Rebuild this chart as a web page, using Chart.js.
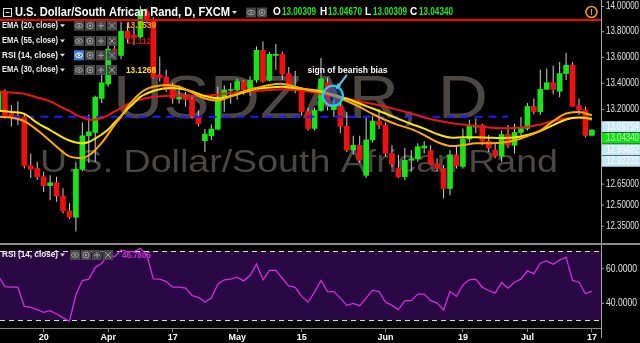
<!DOCTYPE html>
<html><head><meta charset="utf-8">
<script src="https://cdn.jsdelivr.net/npm/chart.js@4.4.1/dist/chart.umd.min.js"></script>
<style>
html,body{margin:0;padding:0;background:#000;overflow:hidden;width:640px;height:343px;}
#wa{position:absolute;left:0;top:0;width:640px;height:243px;}
#wb{position:absolute;left:0;top:243px;width:640px;height:100px;}
canvas{display:block;}
</style></head><body>
<div id="wa"><canvas id="main" width="640" height="243"></canvas></div>
<div id="wb"><canvas id="rsi" width="640" height="100"></canvas></div>
<script>
// ---------- DATA ----------
const tickIdx = [7, 17, 27, 37, 47, 60, 72, 82, 92];
const tickLabels = ['20', 'Apr', '17', 'May', '15', 'Jun', '19', 'Jul', '17'];

const open = [
13.18, 13.33, 13.165, 13.15, 13.14, 12.78, 12.76, 12.70, 12.635, 12.657,
12.56, 12.455, 12.41, 12.755, 13.0, 13.025, 13.28, 13.39, 13.66, 13.61,
13.80, 13.77, 13.755, 13.955, 13.89, 13.46, 13.445, 13.37, 13.275, 13.29,
13.275, 13.14, 12.964, 13.0, 13.05, 13.28, 13.34, 13.345, 13.41, 13.345,
13.42, 13.65, 13.42, 13.61, 13.62, 13.47, 13.37, 13.345, 13.18, 13.055,
13.19, 13.40, 13.195, 13.22, 13.07, 12.895, 12.93, 12.71, 12.97, 13.11,
13.08, 12.87, 12.76, 12.70, 12.82, 12.83, 12.91, 12.89, 12.795, 12.76,
12.615, 12.86, 12.775, 12.976, 13.065, 13.08, 12.96, 12.895, 12.85, 13.01,
12.93, 13.025, 13.055, 13.22, 13.18, 13.35, 13.40, 13.335, 13.47, 13.535,
13.225, 13.195, 13.00309];
const high = [
13.35, 13.35, 13.23, 13.26, 13.155, 12.87, 12.81, 12.737, 12.71, 12.70,
12.616, 12.51, 12.81, 13.10, 13.16, 13.30, 13.46, 13.69, 13.73, 13.875,
13.86, 13.83, 14.0, 13.98, 13.91, 13.60, 13.50, 13.40, 13.38, 13.33,
13.29, 13.19, 13.05, 13.085, 13.37, 13.38, 13.40, 13.43, 13.42, 13.45,
13.68, 13.72, 13.64, 13.70, 13.64, 13.52, 13.49, 13.36, 13.21, 13.21,
13.59, 13.44, 13.28, 13.25, 13.18, 13.0, 13.0, 13.15, 13.15, 13.20,
13.10, 12.93, 12.86, 12.91, 12.895, 12.945, 12.96, 12.93, 12.834, 12.785,
12.895, 12.93, 13.055, 13.12, 13.13, 13.09, 13.006, 12.945, 13.04, 13.08,
13.09, 13.14, 13.245, 13.28, 13.50, 13.51, 13.53, 13.56, 13.63, 13.56,
13.28, 13.22, 13.0467];
const low = [
13.16, 13.13, 13.07, 13.08, 12.76, 12.69, 12.676, 12.59, 12.53, 12.52,
12.437, 12.397, 12.31, 12.74, 12.80, 12.81, 13.245, 13.37, 13.59, 13.58,
13.71, 13.69, 13.74, 13.86, 13.43, 13.41, 13.33, 13.24, 13.24, 13.22,
13.13, 13.07, 12.88, 12.97, 13.04, 13.18, 13.24, 13.27, 13.31, 13.30,
13.40, 13.40, 13.41, 13.50, 13.42, 13.35, 13.32, 13.15, 13.04, 13.04,
13.18, 13.19, 13.14, 13.02, 12.88, 12.86, 12.80, 12.69, 12.95, 13.05,
12.85, 12.77, 12.69, 12.675, 12.737, 12.81, 12.87, 12.785, 12.737, 12.545,
12.566, 12.76, 12.76, 12.95, 13.02, 12.93, 12.88, 12.834, 12.81, 12.91,
12.87, 13.006, 13.04, 13.16, 13.155, 13.345, 13.31, 13.29, 13.42, 13.22,
13.155, 12.99, 13.00309];
const close = [
13.33, 13.15, 13.142, 13.14, 12.78, 12.755, 12.70, 12.635, 12.657, 12.56,
12.455, 12.41, 12.755, 13.0, 13.03, 13.29, 13.40, 13.66, 13.62, 13.80,
13.745, 13.75, 13.965, 13.89, 13.44, 13.44, 13.35, 13.28, 13.29, 13.27,
13.145, 13.09, 13.013, 13.05, 13.28, 13.345, 13.345, 13.41, 13.345, 13.42,
13.65, 13.41, 13.62, 13.62, 13.465, 13.36, 13.345, 13.18, 13.055, 13.19,
13.43, 13.22, 13.235, 13.07, 12.895, 12.93, 12.82, 12.97, 13.11, 13.08,
12.87, 12.79, 12.70, 12.82, 12.83, 12.92, 12.925, 12.79, 12.76, 12.615,
12.86, 12.78, 12.976, 13.07, 13.075, 12.96, 12.91, 12.85, 13.01, 12.93,
13.025, 13.055, 13.22, 13.18, 13.35, 13.40, 13.35, 13.47, 13.535, 13.22,
13.195, 13.003, 13.0434];

const emaIdx = [0,2,4,6,8,10,11,12,13,14,15,16,17,18,19,20,21,22,23,24,26,28,30,32,34,36,38,40,42,44,46,48,50,52,54,56,58,60,62,64,66,68,70,72,74,76,78,80,82,84,86,88,90,92];
const ema20 = [13.143,13.136,13.110,13.043,12.962,12.880,12.848,12.838,12.837,12.855,12.895,12.947,13.013,13.081,13.142,13.216,13.273,13.322,13.353,13.370,13.383,13.370,13.326,13.280,13.265,13.296,13.334,13.360,13.383,13.391,13.370,13.345,13.326,13.299,13.261,13.216,13.163,13.118,13.080,13.050,13.006,12.954,12.925,12.932,12.945,12.945,12.949,12.965,12.998,13.039,13.110,13.167,13.178,13.1539];
const ema30 = [13.188,13.178,13.164,13.096,13.043,12.987,12.965,12.950,12.945,12.954,12.980,13.010,13.047,13.099,13.148,13.201,13.246,13.292,13.318,13.337,13.358,13.356,13.334,13.299,13.282,13.299,13.326,13.353,13.364,13.370,13.358,13.349,13.334,13.307,13.278,13.242,13.204,13.167,13.126,13.088,13.054,13.013,12.987,12.990,12.989,12.986,12.984,12.987,13.006,13.036,13.080,13.122,13.137,13.1268];
const ema55 = [13.334,13.326,13.316,13.288,13.258,13.208,13.186,13.156,13.137,13.122,13.122,13.133,13.152,13.182,13.208,13.235,13.258,13.273,13.284,13.292,13.299,13.303,13.299,13.299,13.311,13.322,13.330,13.337,13.345,13.350,13.345,13.334,13.316,13.299,13.280,13.258,13.239,13.220,13.193,13.167,13.137,13.114,13.096,13.084,13.073,13.062,13.056,13.058,13.067,13.084,13.110,13.129,13.137,13.118];

const rsi = [
55.2, 49.4, 49.0, 49.0, 37.9, 37.3, 36.0, 34.4, 35.4, 33.5,
31.2, 29.2, 44.6, 52.9, 53.7, 60.4, 62.9, 67.7, 66.7, 70.6,
69.6, 69.6, 71.5, 67.7, 53.8, 53.7, 52.3, 49.0, 49.0, 48.5,
44.2, 43.1, 40.4, 42.7, 50.8, 53.3, 53.7, 54.8, 52.7, 55.8,
62.5, 53.3, 58.8, 58.8, 54.2, 49.8, 48.9, 43.7, 40.4, 46.2,
52.9, 46.5, 46.5, 42.7, 38.5, 39.6, 38.3, 42.7, 47.3, 46.5,
40.4, 38.5, 36.0, 41.2, 41.2, 45.0, 45.0, 41.2, 39.8, 35.8,
46.5, 43.7, 50.4, 53.3, 53.7, 49.0, 47.1, 45.6, 51.7, 48.5,
51.9, 53.7, 58.5, 56.9, 62.9, 64.2, 62.3, 64.8, 66.3, 52.9,
51.9, 45.2, 46.78];

const priceTicks = [14.0, 13.8, 13.6, 13.4, 13.2, 12.65, 12.5, 12.35];
const rsiTicks = [60, 40];
const rsiBands = [70, 30];
const tagValues = [13.06794, 13.04340, 12.99492, 12.92231];
const redLevel = 13.889;
const blueLevel = 13.142;
const blueSpan = [0, 79];
const studyNames = ['EMA (20, close)', 'EMA (55, close)', 'RSI (14, close)', 'EMA (30, close)'];
const studyValues = ['13.1539', '13.1123', '', '13.1268'];
const rsiValue = '46.7805';
const titleText = 'U.S. Dollar/South African Rand, D, FXCM';
const watermark1 = 'USDZAR, D';
const watermark2 = 'U.S. Dollar/South African Rand';
const note = {text: 'sign of bearish bias', idx: 51.85, price: 13.30};

// ---------- STYLE / LAYOUT ----------
const FONT = "'Liberation Sans', Arial, sans-serif";
Chart.defaults.font.family = FONT;
Chart.defaults.animation = false;
const X_MIN = 0.2326, X_MAX = 93.41;
const Y_MIN = 12.2356, Y_MAX = 14.048;
const R_MIN = 25.36, R_MAX = 73.48;
const UP = '#16e616', DOWN = '#f01010';
const C20 = '#ffa800', C30 = '#ffe400', C55 = '#ee1515', CRSI = '#d02fdc';
const AXW = 39;

const N = close.length;
const ids = close.map((_, i) => i);

function stretchText(ctx, s, cx, base, targetW, font) {
  ctx.font = font;
  const w = ctx.measureText(s).width;
  ctx.save(); ctx.translate(cx, base); ctx.scale(targetW / w, 1);
  ctx.textAlign = 'center'; ctx.textBaseline = 'alphabetic';
  ctx.fillText(s, 0, 0); ctx.restore();
}
function txt(ctx, s, x, y, color, font, maxW, align) {
  ctx.font = font; ctx.fillStyle = color; ctx.textAlign = align || 'left'; ctx.textBaseline = 'middle';
  if (maxW) ctx.fillText(s, x, y, maxW); else ctx.fillText(s, x, y);
}
function tri(ctx, x, y, color) {
  ctx.fillStyle = color; ctx.beginPath();
  ctx.moveTo(x, y - 1.5); ctx.lineTo(x + 5, y - 1.5); ctx.lineTo(x + 2.5, y + 1.5); ctx.closePath(); ctx.fill();
}
function iconBox(ctx, x, y, kind, active) {
  ctx.fillStyle = active ? '#3b82d6' : '#474747';
  ctx.fillRect(x, y - 5, 10, 10);
  const col = active ? '#ffffff' : '#a0a0a0';
  ctx.strokeStyle = col; ctx.fillStyle = col; ctx.lineWidth = 1;
  const cx = x + 5, cy = y;
  ctx.beginPath();
  if (kind === 'eye') { ctx.ellipse(cx, cy, 3.5, 2.3, 0, 0, 2 * Math.PI); ctx.stroke(); ctx.beginPath(); ctx.arc(cx, cy, 1.1, 0, 2 * Math.PI); ctx.fill(); }
  else if (kind === 'gear') { ctx.arc(cx, cy, 3, 0, 2 * Math.PI); ctx.stroke(); ctx.beginPath(); ctx.arc(cx, cy, 1.2, 0, 2 * Math.PI); ctx.fill(); }
  else if (kind === 'plus') { ctx.moveTo(cx - 3, cy); ctx.lineTo(cx + 3, cy); ctx.moveTo(cx, cy - 3); ctx.lineTo(cx, cy + 3); ctx.stroke(); }
  else { ctx.moveTo(cx - 3, cy - 3); ctx.lineTo(cx + 3, cy + 3); ctx.moveTo(cx + 3, cy - 3); ctx.lineTo(cx - 3, cy + 3); ctx.stroke(); }
}
function studyRow(ctx, y, name, value, valColor, activeEye, boxX, valX) {
  txt(ctx, name, 2, y, '#f2f2f2', 'bold 9px ' + FONT, 56);
  tri(ctx, 60, y, '#e0e0e0');
  ['eye', 'gear', 'plus', 'x'].forEach((k, i) => iconBox(ctx, boxX + i * 11, y, k, activeEye && i === 0));
  if (value) txt(ctx, value, valX, y, valColor, 'bold 9.5px ' + FONT, 30);
}

const mainPlugin = {
  id: 'mainDecor',
  beforeDraw(chart) {
    const ctx = chart.ctx;
    ctx.save(); ctx.fillStyle = '#000'; ctx.fillRect(0, 0, chart.width, chart.height); ctx.restore();
  },
  beforeDatasetsDraw(chart) {
    const ctx = chart.ctx, a = chart.chartArea;
    ctx.save();
    ctx.beginPath(); ctx.rect(a.left, a.top, a.right - a.left, a.bottom - a.top); ctx.clip();
    ctx.fillStyle = '#4d4744';
    stretchText(ctx, watermark1, 300.5, 118, 375, '61px ' + FONT);
    stretchText(ctx, watermark2, 299, 172, 518, '32px ' + FONT);
    ctx.restore();
  },
  afterDraw(chart) {
    const ctx = chart.ctx, a = chart.chartArea, xs = chart.scales.x, ys = chart.scales.y;
    ctx.save();
    // annotation
    const cx = xs.getPixelForValue(note.idx), cy = ys.getPixelForValue(note.price);
    ctx.beginPath(); ctx.arc(cx, cy, 10, 0, 2 * Math.PI);
    ctx.fillStyle = 'rgba(40,90,210,0.45)'; ctx.fill();
    ctx.lineWidth = 2; ctx.strokeStyle = '#22d3f0'; ctx.stroke();
    const ax0 = cx + 14, ay0 = cy - 21, ax1 = cx + 4, ay1 = cy - 8;
    ctx.strokeStyle = '#5cc6f2'; ctx.lineWidth = 2;
    ctx.beginPath(); ctx.moveTo(ax0, ay0); ctx.lineTo(ax1, ay1); ctx.stroke();
    const ang = Math.atan2(ay1 - ay0, ax1 - ax0);
    ctx.fillStyle = '#5cc6f2'; ctx.beginPath();
    ctx.moveTo(ax1 + 2 * Math.cos(ang), ay1 + 2 * Math.sin(ang));
    ctx.lineTo(ax1 - 5 * Math.cos(ang - 0.5), ay1 - 5 * Math.sin(ang - 0.5));
    ctx.lineTo(ax1 - 5 * Math.cos(ang + 0.5), ay1 - 5 * Math.sin(ang + 0.5));
    ctx.closePath(); ctx.fill();
    ctx.shadowColor = '#000'; ctx.shadowBlur = 2;
    txt(ctx, note.text, cx + 14.5, cy - 25, '#ffffff', 'bold 9px ' + FONT, 80, 'center');
    ctx.shadowBlur = 0;

    // header row
    ctx.strokeStyle = '#dddddd'; ctx.lineWidth = 1;
    ctx.strokeRect(3.5, 8.5, 8, 8);
    ctx.beginPath(); ctx.moveTo(5.5, 12.5); ctx.lineTo(9.5, 12.5); ctx.stroke();
    txt(ctx, titleText, 15, 12.5, '#ffffff', 'bold 12px ' + FONT, 215);
    tri(ctx, 232, 12.5, '#e0e0e0');
    iconBox(ctx, 246, 12.5, 'eye', false);
    iconBox(ctx, 257, 12.5, 'gear', false);
    const ohlc = [['O', open[N - 1], 273, 282], ['H', high[N - 1], 320, 328], ['L', low[N - 1], 365, 373], ['C', close[N - 1], 410, 419]];
    ohlc.forEach(([k, v, kx, vx]) => {
      txt(ctx, k, kx, 12.5, '#ffffff', 'bold 10px ' + FONT);
      txt(ctx, v.toFixed(5), vx, 12.5, '#22e622', 'bold 10px ' + FONT, 34);
    });
    // warning icon
    ctx.beginPath(); ctx.arc(591.5, 12, 5.5, 0, 2 * Math.PI);
    ctx.strokeStyle = '#f0a030'; ctx.lineWidth = 1.5; ctx.stroke();
    txt(ctx, '!', 591.5, 12.5, '#f0a030', 'bold 9px ' + FONT, null, 'center');

    // study rows
    const rowY = [25.7, 41, 55.3, 70];
    const rowCol = [C20, '#e01010', '', C30];
    studyNames.forEach((nm, i) => studyRow(ctx, rowY[i], nm, studyValues[i], rowCol[i], i === 2, 74, 126));

    // right axis
    const axX = a.right;
    ctx.strokeStyle = '#a8a8a8'; ctx.lineWidth = 1;
    ctx.beginPath(); ctx.moveTo(axX + 0.5, 0); ctx.lineTo(axX + 0.5, chart.height); ctx.stroke();
    priceTicks.forEach(v => {
      const y = ys.getPixelForValue(v);
      ctx.strokeStyle = '#a8a8a8';
      ctx.beginPath(); ctx.moveTo(axX, y + 0.5); ctx.lineTo(axX + 3, y + 0.5); ctx.stroke();
      txt(ctx, v.toFixed(5), axX + 5, y + 0.5, '#e4e4e4', '10px ' + FONT, 33);
    });
    let prev = -1e9;
    tagValues.slice().sort((p, q) => q - p).forEach(v => {
      let y = Math.max(ys.getPixelForValue(v), prev + 11.5);
      prev = y;
      const isLast = Math.abs(v - close[N - 1]) < 1e-6;
      ctx.fillStyle = isLast ? '#14dd14' : '#c5e6f7';
      ctx.fillRect(axX + 1, y - 5.5, AXW, 11);
      txt(ctx, v.toFixed(5), axX + 5, y + 0.5, isLast ? '#b8ffb8' : '#ffffff', '10px ' + FONT, 33);
    });
    ctx.restore();
  }
};

const rsiPlugin = {
  id: 'rsiDecor',
  beforeDraw(chart) {
    const ctx = chart.ctx;
    ctx.save(); ctx.fillStyle = '#000'; ctx.fillRect(0, 0, chart.width, chart.height);
    ctx.fillStyle = '#8c8c8c'; ctx.fillRect(0, 0, chart.width, 2);
    ctx.restore();
  },
  beforeDatasetsDraw(chart) {
    const ctx = chart.ctx, a = chart.chartArea, ys = chart.scales.y;
    const yt = ys.getPixelForValue(rsiBands[0]), yb = ys.getPixelForValue(rsiBands[1]);
    ctx.save();
    ctx.fillStyle = '#2a0845';
    ctx.fillRect(a.left, yt, a.right - a.left, yb - yt);
    ctx.strokeStyle = '#dddddd'; ctx.lineWidth = 1; ctx.setLineDash([5, 4]);
    [yt, yb].forEach(y => { ctx.beginPath(); ctx.moveTo(a.left, Math.round(y) + 0.5); ctx.lineTo(a.right, Math.round(y) + 0.5); ctx.stroke(); });
    ctx.restore();
  },
  afterDraw(chart) {
    const ctx = chart.ctx, a = chart.chartArea, ys = chart.scales.y;
    ctx.save();
    const axX = a.right;
    ctx.strokeStyle = '#a8a8a8'; ctx.lineWidth = 1;
    ctx.beginPath(); ctx.moveTo(axX + 0.5, 2); ctx.lineTo(axX + 0.5, 95); ctx.stroke();
    rsiTicks.forEach(v => {
      const y = ys.getPixelForValue(v);
      ctx.beginPath(); ctx.moveTo(axX, y + 0.5); ctx.lineTo(axX + 3, y + 0.5); ctx.stroke();
      txt(ctx, v.toFixed(4), axX + 5, y + 0.5, '#e4e4e4', '10px ' + FONT, 31);
    });
    txt(ctx, studyNames[2], 2, 12, '#f2f2f2', 'bold 9px ' + FONT, 56);
    tri(ctx, 60, 12, '#e0e0e0');
    ['eye', 'gear', 'plus', 'x'].forEach((k, i) => iconBox(ctx, 70 + i * 11, 12, k, false));
    txt(ctx, rsiValue, 122, 12, CRSI, 'bold 9.5px ' + FONT, 29);
    ctx.restore();
  }
};

const lineDs = (label, xsArr, ysArr, color, order) => ({
  type: 'line', label, data: xsArr.map((x, i) => ({x, y: ysArr[i]})),
  borderColor: color, borderWidth: 2, pointRadius: 0, tension: 0.35, order, fill: false
});

new Chart(document.getElementById('main'), {
  type: 'bar',
  data: {
    datasets: [
      {label: 'wick', data: ids.map(i => ({x: i, y: [low[i], high[i]]})), backgroundColor: '#cfcfcf',
       barThickness: 1, inflateAmount: 0, grouped: false, order: 6, borderWidth: 0},
      {label: 'body', data: ids.map(i => ({x: i, y: [open[i], close[i]]})),
       backgroundColor: ids.map(i => close[i] >= open[i] ? UP : DOWN),
       barThickness: 5, minBarLength: 1, grouped: false, order: 5, borderWidth: 0},
      lineDs('EMA 55', emaIdx, ema55, C55, 3),
      lineDs('EMA 30', emaIdx, ema30, C30, 2),
      lineDs('EMA 20', emaIdx, ema20, C20, 1),
      {type: 'line', label: 'level', data: [{x: -1, y: blueLevel}, {x: -1, y: blueLevel}].map((p, k) => ({x: blueSpan[k], y: blueLevel})),
       borderColor: '#1c1cff', borderWidth: 2, borderDash: [8, 6], pointRadius: 0, order: 4, clip: 0},
      {type: 'line', label: 'red', data: [{x: X_MIN - 1, y: redLevel}, {x: X_MAX + 1, y: redLevel}],
       borderColor: '#ff0000', borderWidth: 2, pointRadius: 0, order: 0, clip: 0}
    ]
  },
  options: {
    responsive: false, animation: false, events: [],
    layout: {padding: {left: 0, right: 0, top: 0, bottom: 1}},
    plugins: {legend: {display: false}, tooltip: {enabled: false}},
    scales: {
      x: {type: 'linear', min: X_MIN, max: X_MAX, offset: false, display: false},
      y: {type: 'logarithmic', position: 'right', min: Y_MIN, max: Y_MAX,
          ticks: {display: false}, grid: {display: false}, border: {display: false},
          afterFit: s => { s.width = AXW; }}
    }
  },
  plugins: [mainPlugin]
});

new Chart(document.getElementById('rsi'), {
  type: 'line',
  data: {
    datasets: [{label: 'RSI', data: ids.map(i => ({x: i, y: rsi[i]})), borderColor: CRSI,
      borderWidth: 1.3, pointRadius: 0, tension: 0, fill: false}]
  },
  options: {
    responsive: false, animation: false, events: [],
    layout: {padding: {left: 0, right: 0, top: 2, bottom: 0}},
    plugins: {legend: {display: false}, tooltip: {enabled: false}},
    scales: {
      x: {type: 'linear', min: X_MIN, max: X_MAX, offset: false, position: 'bottom',
          afterBuildTicks: s => { s.ticks = tickIdx.map(v => ({value: v})); },
          afterFit: s => { s.height = 15; },
          ticks: {color: '#ffffff', font: {size: 9, weight: 'bold'}, padding: 0, maxRotation: 0, autoSkip: false,
                  callback: v => tickLabels[tickIdx.indexOf(v)]},
          grid: {drawOnChartArea: false, drawTicks: true, tickLength: 4, color: '#8a8a8a'},
          border: {display: true, color: '#8a8a8a', width: 1}},
      y: {type: 'linear', position: 'right', min: R_MIN, max: R_MAX,
          ticks: {display: false}, grid: {display: false}, border: {display: false},
          afterFit: s => { s.width = AXW; }}
    }
  },
  plugins: [rsiPlugin]
});
</script>
</body></html>
